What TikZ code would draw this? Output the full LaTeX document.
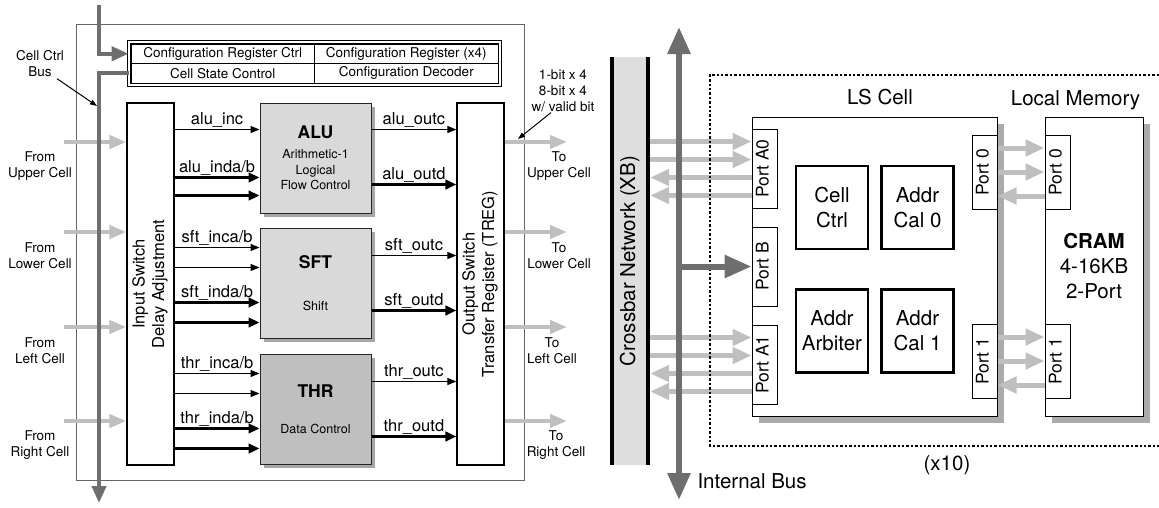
\documentclass[tikz,border=0pt]{standalone}
\usepackage{fontspec}
\setmainfont{TeX Gyre Heros}
\usepackage{graphicx}
\usetikzlibrary{positioning, arrows.meta, calc, fit, shadows}

\newcommand{\cfgfont}{\fontsize{13.5}{16}\selectfont}
\newcommand{\lblfont}{\fontsize{16.5}{19.5}\selectfont}
\newcommand{\descfont}{\fontsize{12.5}{15.5}\selectfont}
\newcommand{\ttlfont}{\fontsize{17.5}{20}\selectfont\bfseries}
\newcommand{\bigfont}{\fontsize{20.5}{25}\selectfont}
\newcommand{\portfont}{\fontsize{17.5}{20}\selectfont}
\newcommand{\vtext}[1]{\rotatebox{90}{\begin{tabular}{@{}c@{}}#1\end{tabular}}}

\begin{document}
\begin{tikzpicture}[
		x=1pt, y=-1pt,
		% Cell boxes
		cellframe/.style={draw=black!60, line width=1pt, inner sep=0pt},
		switchbox/.style={draw, line width=1.3pt, fill=white, inner sep=0pt, font=\lblfont, minimum width=47pt, minimum height=362pt},
		fublock/.style={draw=black!85, line width=1pt, fill=black!15, minimum width=111pt, minimum height=110pt, align=center, font=\descfont, inner sep=0pt, drop shadow={shadow xshift=4pt, shadow yshift=-4pt, fill=black!35, opacity=1}},
		cfgcell/.style={draw, line width=0.8pt, minimum width=183.5pt, minimum height=19.5pt, inner sep=0pt, outer sep=0pt, font=\cfgfont},
		% Wires and labels
		sigthin/.style={line width=1.2pt, -{Triangle[length=9pt, width=7pt]}},
		sigthick/.style={line width=2.7pt, -{Triangle[length=11pt, width=9.5pt]}},
		lbl/.style={above, font=\lblfont, inner sep=1pt},
		gio/.style={draw=black!25, line width=4.5pt, -{Triangle[length=17pt, width=13pt]}},
		bus/.style={draw=black!57, line width=4pt, -{Triangle[length=17pt, width=14pt]}},
		iolbl/.style={font=\cfgfont, align=center},
		note/.style={line width=1pt, -{Triangle[length=7pt, width=5pt]}},
		% LS cell side
		xbar/.style={fill=black!13, minimum width=40pt, minimum height=408pt, inner sep=0pt, font=\bigfont},
		lsgroup/.style={line width=2.6pt, dash pattern=on 2.4pt off 2pt},
		cellbox/.style={draw, line width=1pt, fill=white, drop shadow={shadow xshift=6.5pt, shadow yshift=-6.5pt, fill=black!33, opacity=1}},
		port/.style={draw, line width=1pt, fill=white, minimum width=25pt, inner sep=0pt, font=\portfont},
		func/.style={draw, line width=2.5pt, minimum width=72pt, minimum height=83pt, inner sep=0pt, align=center, font=\bigfont},
		giob/.style={draw=black!25, line width=5pt, -{Triangle[length=19pt, width=16pt]}},
		ibus/.style={draw=black!57, line width=6pt}
		]
		\useasboundingbox (0,0) rectangle (1159,507);
		
		% --- PROCESSING CELL (LEFT) ---
		\node[cellframe, minimum width=448pt, minimum height=456pt, anchor=north west] (cell) at (76,24) {};
		
		% Configuration table
		\node[cfgcell, anchor=north west] (crc) at (131,44) {Configuration Register Ctrl};
		\node[cfgcell, anchor=north west] (cr4) at (crc.north east) {Configuration Register (x4)};
		\node[cfgcell, anchor=north west] (csc) at (crc.south west) {Cell State Control};
		\node[cfgcell, anchor=north west] (cdc) at (crc.south east) {Configuration Decoder};
		\node[draw, line width=1.1pt, double, double distance=1.9pt, fit=(crc)(cdc), inner sep=1.8pt] (cfg) {};
		
		% Switches
		\node[switchbox] (insw) at (150.5,284) {\vtext{Input Switch\\Delay Adjustment}};
		\node[switchbox] (outsw) at (480.5,284) {\vtext{Output Switch\\Transfer Register (TREG)}};
		
		% Function blocks
		\node[fublock] (alu) at (315.5,158) {{\ttlfont ALU}\\[4.5pt]Arithmetic-1\\Logical\\Flow Control};
		\node[fublock] (sft) at (315.5,283) {{\ttlfont SFT}\\[26pt]Shift};
		\node[fublock, fill=black!25] (thr) at (315.5,409) {{\ttlfont THR}\\[21pt]Data Control};
		
		% Block inputs / outputs
		\draw[sigthin] ($(insw.east |- alu.north)+(0,27)$) -- node[lbl] {alu\_inc} ($(alu.north west)+(0,27)$);
		\draw[sigthick] ($(insw.east |- alu.north)+(0,75)$) -- node[lbl] {alu\_inda/b} ($(alu.north west)+(0,75)$);
		\draw[sigthick] ($(insw.east |- alu.north)+(0,93)$) -- ($(alu.north west)+(0,93)$);
		\draw[sigthin] ($(alu.north east)+(0,27)$) -- node[lbl] {alu\_outc} ($(outsw.west |- alu.north)+(0,27)$);
		\draw[sigthick] ($(alu.north east)+(0,82)$) -- node[lbl] {alu\_outd} ($(outsw.west |- alu.north)+(0,82)$);
		\foreach \blk in {sft,thr} {
			\draw[sigthin] ($(insw.east |- \blk.north)+(0,20)$) -- node[lbl] {\blk\_inca/b} ($(\blk.north west)+(0,20)$);
			\draw[sigthin] ($(insw.east |- \blk.north)+(0,40)$) -- ($(\blk.north west)+(0,40)$);
			\draw[sigthick] ($(insw.east |- \blk.north)+(0,75)$) -- node[lbl] {\blk\_inda/b} ($(\blk.north west)+(0,75)$);
			\draw[sigthick] ($(insw.east |- \blk.north)+(0,95)$) -- ($(\blk.north west)+(0,95)$);
			\draw[sigthin] ($(\blk.north east)+(0,28)$) -- node[lbl] {\blk\_outc} ($(outsw.west |- \blk.north)+(0,28)$);
			\draw[sigthick] ($(\blk.north east)+(0,83)$) -- node[lbl] {\blk\_outd} ($(outsw.west |- \blk.north)+(0,83)$);
		}
		
		% Neighbour links
		\foreach \y in {142,232,327,421} {
			\coordinate (src\y) at (64,\y);
			\coordinate (dst\y) at (567,\y);
			\draw[gio] (src\y) -- (src\y -| insw.west);
			\draw[gio] (outsw.east |- dst\y) -- (dst\y);
		}
		\node[iolbl] (fup) at (40,166) {From\\Upper Cell};
		\node[iolbl] (flo) at (40,256) {From\\Lower Cell};
		\node[iolbl] (fle) at (40,351) {From\\Left Cell};
		\node[iolbl] (fri) at (40,445) {From\\Right Cell};
		\node[iolbl] (tup) at (559,166) {To\\Upper Cell};
		\node[iolbl] (tlo) at (559,256) {To\\Lower Cell};
		\node[iolbl] (tle) at (552,351) {To\\Left Cell};
		\node[iolbl] (tri) at (556,445) {To\\Right Cell};
		
		% Cell control bus
		\coordinate (busin) at (99,5);
		\coordinate (busout) at (99,503);
		\draw[bus] (busin) |- (cfg.west |- crc.west);
		\draw[bus] (cfg.west |- csc.west) -| (busout);
		
		% Notes
		\node[iolbl] (ccb) at (40,64) {Cell Ctrl\\Bus};
		\coordinate (ccbtip) at (97,106);
		\draw[note] ($(ccb.south)+(17,-2)$) -- (ccbtip);
		\node[iolbl] (bits) at (563,91) {1-bit x 4\\8-bit x 4\\w/ valid bit};
		\coordinate (bittip) at (518,139);
		\draw[note] ($(bits.south)+(-12,-3)$) -- (bittip);
		
		% --- LS CELL AND LOCAL MEMORY (RIGHT) ---
		\node[xbar] (xb) at (630,261) {\vtext{Crossbar Network (XB)}};
		\draw[line width=4pt] ($(xb.north west)+(2,0)$) -- ($(xb.south west)+(2,0)$);
		\draw[line width=4pt] ($(xb.north east)+(-2,0)$) -- ($(xb.south east)+(-2,0)$);
		
		\node[cellbox, minimum width=245pt, minimum height=299pt] (ls) at (874.5,266.5) {};
		\node[cellbox, minimum width=98pt, minimum height=299pt, align=center, font=\bigfont] (cram) at (1094,266.5) {{\bfseries CRAM}\\4-16KB\\2-Port};
		\node[font=\bigfont, above=8pt of ls.north, xshift=5.5pt] (lslbl) {LS Cell};
		\node[font=\bigfont, above=3.5pt of cram.north, xshift=-18.5pt] (lmlbl) {Local Memory};
		
		% Ports
		\node[port, minimum height=79pt] (pA0) at (764.5,168.5) {\vtext{Port A0}};
		\node[port, minimum height=79pt] (pB) at (764.5,266.5) {\vtext{Port B}};
		\node[port, minimum height=79pt] (pA1) at (764.5,364.5) {\vtext{Port A1}};
		\node[port, minimum height=74pt] (p0) at (984.5,172) {\vtext{Port 0}};
		\node[port, minimum height=74pt] (p1) at (984.5,361) {\vtext{Port 1}};
		\node[port, minimum height=74pt] (m0) at (1057.5,172) {\vtext{Port 0}};
		\node[port, minimum height=74pt] (m1) at (1057.5,361) {\vtext{Port 1}};
		
		% Inner units
		\node[func] (cctrl) at (832,207.5) {Cell\\Ctrl};
		\node[func] (acal0) at (917.5,207.5) {Addr\\Cal 0};
		\node[func] (aarb) at (832,331) {Addr\\Arbiter};
		\node[func] (acal1) at (917.5,331) {Addr\\Cal 1};
		
		% Crossbar <-> ports
		\foreach \prt in {pA0,pA1} {
			\foreach \dy in {-27,-9} \draw[giob] ($(xb.east |- \prt.west)+(0,\dy)$) -- ($(\prt.west)+(0,\dy)$);
			\foreach \dy in {9,27} \draw[giob] ($(\prt.west)+(0,\dy)$) -- ($(xb.east |- \prt.west)+(0,\dy)$);
		}
		% LS cell <-> memory
		\foreach \a/\m in {p0/m0,p1/m1} {
			\foreach \dy in {-24,0} \draw[giob] ($(\a.east)+(0,\dy)$) -- ($(\m.west)+(0,\dy)$);
			\draw[giob] ($(\m.west)+(0,24)$) -- ($(\a.east)+(0,24)$);
		}
		
		% Group of ten LS cells
		\draw[lsgroup] (1159,75) -- (710,75) -- (710,446) -- (1159,446);
		\node[font=\bigfont] (times) at (947,465) {(x10)};
		
		% Internal bus
		\coordinate (ibtop) at (679,27);
		\coordinate (ibbot) at (679,500);
		\draw[ibus, {Triangle[length=27pt, width=22pt]}-{Triangle[length=27pt, width=22pt]}] (ibbot) -- (ibtop);
		\draw[ibus, -{Triangle[length=27pt, width=22pt]}] (ibtop |- pB.west) -- (pB.west);
		\node[font=\bigfont, anchor=west] (iblbl) at (694,481) {Internal Bus};
		
	\end{tikzpicture}
\end{document}
